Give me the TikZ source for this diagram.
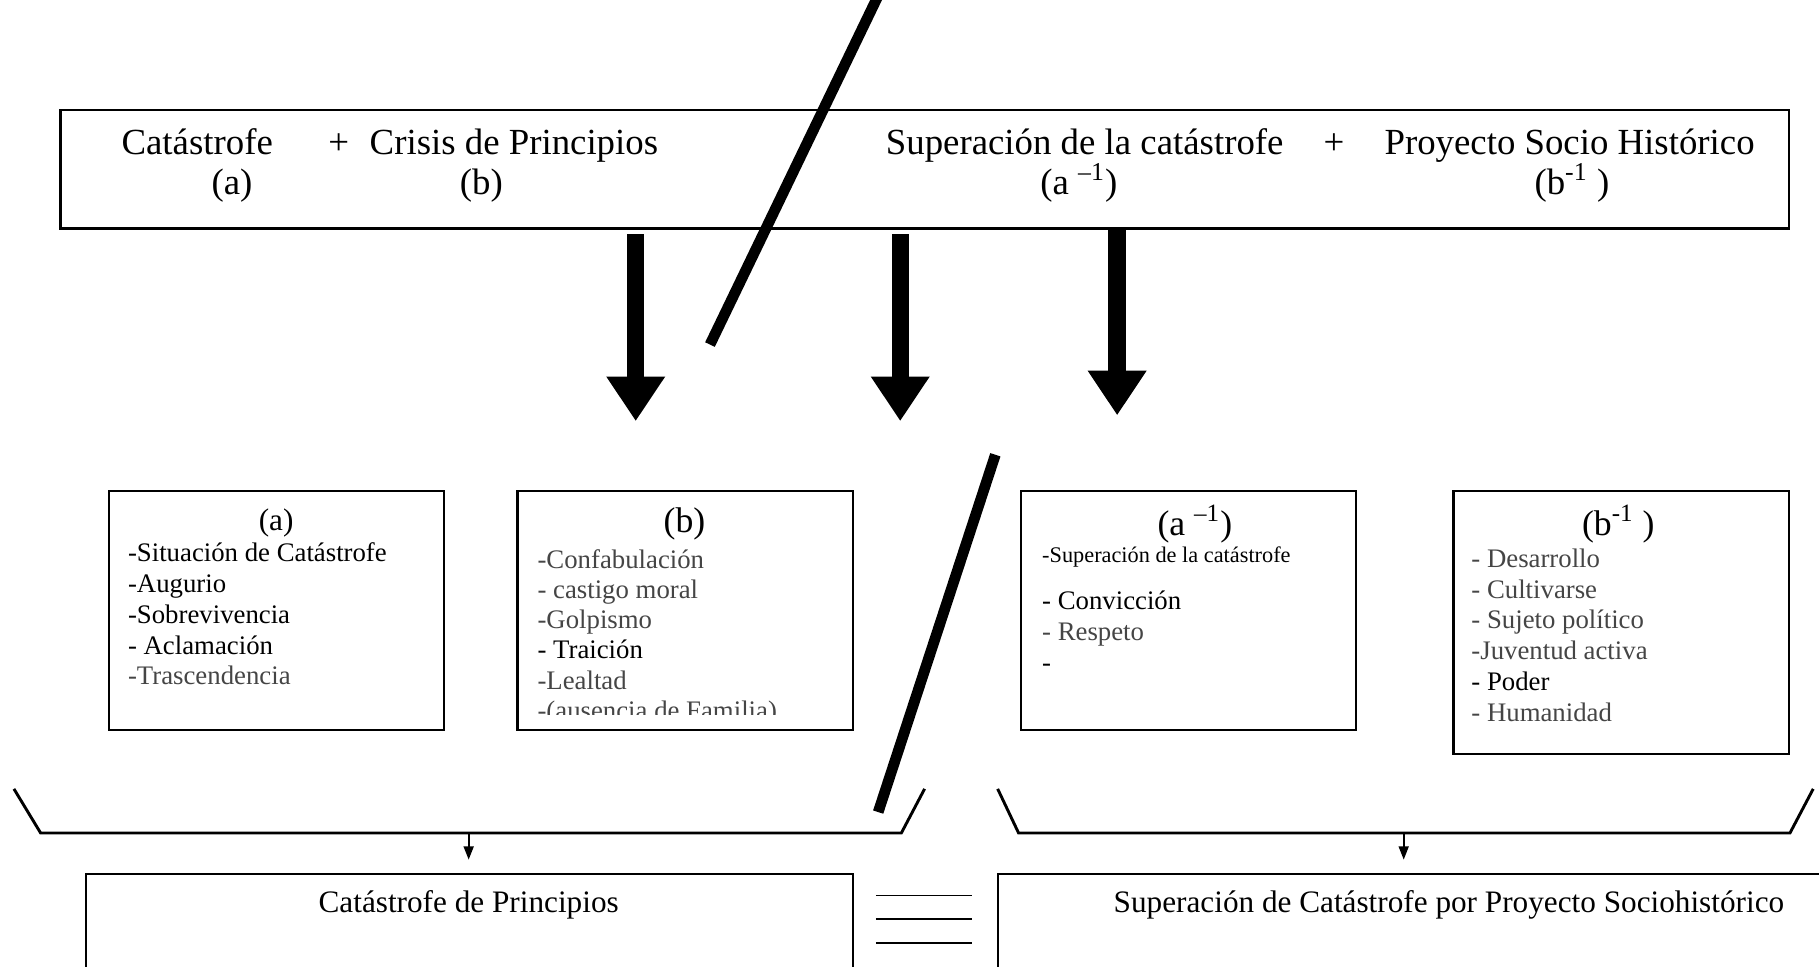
\documentclass[tikz,border=0pt]{standalone}
\usepackage{fontspec}
\setmainfont{Liberation Serif}
\usetikzlibrary{arrows.meta}
\definecolor{softgray}{HTML}{454545}
\newcommand{\ptsize}[2]{\fontsize{#1}{#2}\selectfont}

\begin{document}
\begin{tikzpicture}[x=0.52pt, y=-0.52pt,
  frame/.style={draw, line width=1pt, inner sep=0pt},
  headline/.style={anchor=base, inner sep=0pt, font=\ptsize{16.5}{19}},
  boxhead/.style={inner sep=0pt, font=\ptsize{16}{18.4}},
  item/.style={anchor=base west, inner sep=0pt, font=\ptsize{12}{13.8}},
  bottomtext/.style={inner sep=0pt, font=\ptsize{14}{16.1}},
  bigarrow/.style={line width=7.8pt, -{Triangle[length=20pt, width=25pt]}},
  slash/.style={line width=4.8pt},
  bracket/.style={line width=1.3pt, line join=miter},
  smallarrow/.style={line width=0.8pt, -{Triangle[length=6pt, width=4.5pt]}},
  rule/.style={line width=0.8pt}]
\def\px{0.52pt}
\useasboundingbox (0,0) rectangle (1568,833);
\clip (0,0) rectangle (1568,833);

% top box
\node[frame, line width=1.1pt, minimum width={1490*\px}, minimum height={102*\px}] (top) at (797,146) {};
\node[headline] (catA) at (170,133) {Catástrofe};
\node[headline] (plusL) at (292,133) {+};
\node[headline] (crisB) at (443,133) {Crisis de Principios};
\node[headline] (labA) at (200,168) {(a)};
\node[headline] (labB) at (415,168) {(b)};
\node[headline] (supA) at (935,133) {Superación de la catástrofe};
\node[headline] (plusR) at (1150,133) {+};
\node[headline] (proyB) at (1353,133) {Proyecto Socio Histórico};
\node[headline] (labAi) at (930,168) {(a \textsuperscript{–1})};
\node[headline] (labBi) at (1355,168) {(b\textsuperscript{-1} )};

% block arrows
\coordinate (startA) at (548,202);
\coordinate (tipA) at (548,363);
\coordinate (startB) at (776,202);
\coordinate (tipB) at (776,363);
\coordinate (startC) at (963,197);
\coordinate (tipC) at (963,358);
\draw[bigarrow] (startA) -- (tipA);
\draw[bigarrow] (startB) -- (tipB);
\draw[bigarrow] (startC) -- (tipC);

% slashes
\coordinate (cutTop) at (760,-10);
\coordinate (cutBot) at (612,297);
\coordinate (cut2Top) at (858,392);
\coordinate (cut2Bot) at (757,700);
\draw[slash] (cutTop) -- (cutBot);

% boxes
\node[frame, minimum width={289*\px}, minimum height={206*\px}] (boxA) at (238.5,526) {};
\node[frame, minimum width={289*\px}, minimum height={206*\px}] (boxB) at (590.5,526) {};
\node[frame, minimum width={289*\px}, minimum height={206*\px}] (boxAi) at (1024.5,526) {};
\node[frame, minimum width={289*\px}, minimum height={227*\px}] (boxBi) at (1397.5,536.5) {};

% box (a)
\node[inner sep=0pt, font=\ptsize{14}{16.1}] (headA) at (238,451) {(a)};
\foreach \txt [count=\i] in {-Situación de Catástrofe, -Augurio, -Sobrevivencia, - Aclamación, \color{softgray}-Trascendencia}
  \node[item] (itemA-\i) at ({110},{484+26.6*(\i-1)}) {\txt};

% box (b)
\node[boxhead] (headB) at (590,452) {(b)};
\begin{scope}
\clip (447,424) rectangle (734,616);
\foreach \txt [count=\i] in {-Confabulación, - castigo moral, -Golpismo, \color{black}- Traición, -Lealtad, -(ausencia de Familia)}
  \node[item, text=softgray] (itemB-\i) at ({463},{490+26*(\i-1)}) {\txt};
\end{scope}

% box (a-1)
\node[boxhead] (headAi) at (1030,452) {(a \textsuperscript{–1})};
\node[item, font=\ptsize{10}{11.5}] (itemAi-0) at (898,485) {-Superación de la catástrofe};
\foreach \txt [count=\i] in {- Convicción, \color{softgray}- Respeto, -}
  \node[item] (itemAi-\i) at ({898},{525+27*(\i-1)}) {\txt};

% box (b-1)
\node[boxhead] (headBi) at (1395,452) {(b\textsuperscript{-1} )};
\foreach \txt [count=\i] in {- Desarrollo, - Cultivarse, - Sujeto político, -Juventud activa, \color{black}- Poder, - Humanidad}
  \node[item, text=softgray] (itemBi-\i) at ({1268},{489+26.5*(\i-1)}) {\txt};

\draw[slash] (cut2Top) -- (cut2Bot);

% brackets
\draw[bracket] (12,680) -- (35,718) -- (777,718) -- (797,680);
\draw[bracket] (860,680) -- (878,718) -- (1543,718) -- (1563,680);

% bottom boxes
\node[frame, line width=0.9pt, minimum width={661*\px}, minimum height={147*\px}] (catP) at (404.5,826.5) {};
\node[frame, line width=0.9pt, minimum width={740*\px}, minimum height={147*\px}] (supP) at (1230,826.5) {};
\node[bottomtext] (catPtext) at (404,780) {Catástrofe de Principios};
\node[bottomtext] (supPtext) at (1249,780) {Superación de Catástrofe por Proyecto Sociohistórico};

\coordinate (joinL) at (404,718);
\coordinate (joinR) at (1210,718);
\draw[smallarrow] (joinL) -- ++(0,23);
\draw[smallarrow] (joinR) -- ++(0,23);

% equals
\foreach \y in {772,792,813}
  \draw[rule] (755,\y) -- (838,\y);
\end{tikzpicture}
\end{document}
